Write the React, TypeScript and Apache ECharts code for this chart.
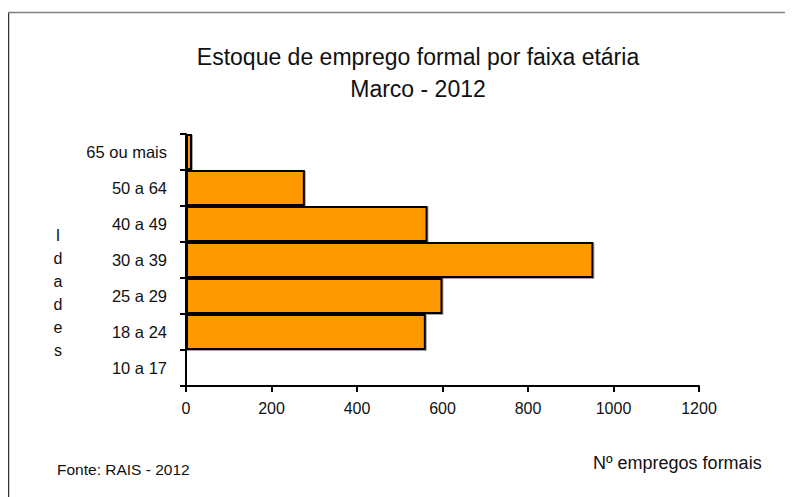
import React, { useEffect, useRef } from "react";
import * as echarts from "echarts";

const categories = ["10 a 17", "18 a 24", "25 a 29", "30 a 39", "40 a 49", "50 a 64", "65 ou mais"];
const values = [0, 561, 600, 953, 565, 278, 14];
const xTicks = [0, 200, 400, 600, 800, 1000, 1200];
const titleLines = ["Estoque de emprego formal por faixa etária", "Marco - 2012"];
const yAxisTitle = "Idades";
const sourceNote = "Fonte: RAIS - 2012";
const xAxisTitle = "Nº empregos formais";

const FONT = "'Liberation Sans', Arial, sans-serif";

export default function App() {
  const ref = useRef<HTMLDivElement>(null);
  useEffect(() => {
    if (!ref.current) return;
    const chart = echarts.init(ref.current, null, { renderer: "svg" });
    chart.setOption({
      animation: false,
      backgroundColor: "#ffffff",
      grid: { left: 178, right: 94, top: 126, bottom: 111, containLabel: false },
      xAxis: {
        type: "value",
        min: xTicks[0],
        max: xTicks[xTicks.length - 1],
        interval: 200,
        axisLine: { show: true, lineStyle: { color: "#000", width: 2 } },
        axisTick: { show: true, inside: false, length: 6, lineStyle: { color: "#000", width: 2 } },
        splitLine: { show: false },
        axisLabel: {
          color: "#111",
          fontFamily: FONT,
          fontSize: 16,
          margin: 14,
          formatter: (v: number) => String(v),
        },
      },
      yAxis: {
        type: "category",
        data: categories,
        axisLine: { show: true, lineStyle: { color: "#000", width: 2 } },
        axisTick: { show: true, length: 6, lineStyle: { color: "#000", width: 2 } },
        axisLabel: { color: "#111", fontFamily: FONT, fontSize: 16.5, margin: 19 },
        splitLine: { show: false },
      },
      series: [
        {
          type: "bar",
          data: values,
          barCategoryGap: "0%",
          itemStyle: {
            color: "#FF9900",
            borderColor: "#000",
            borderWidth: 2,
            shadowColor: "rgba(0,0,0,0.35)",
            shadowOffsetX: 1,
            shadowOffsetY: 1,
            shadowBlur: 1,
          },
        },
      ],
      graphic: [
        {
          type: "line",
          shape: { x1: 0.5, y1: 4, x2: 0.5, y2: 489 },
          style: { stroke: "#333", lineWidth: 1.5 },
          silent: true,
        },
        {
          type: "line",
          shape: { x1: 0, y1: 4.5, x2: 785, y2: 4.5 },
          style: { stroke: "#808080", lineWidth: 1.5 },
          silent: true,
        },
        {
          type: "text",
          x: 410,
          y: 49,
          style: {
            text: titleLines[0],
            fill: "#111",
            font: `23px ${FONT}`,
            textAlign: "center",
            textVerticalAlign: "middle",
          },
        },
        {
          type: "text",
          x: 410,
          y: 81,
          style: {
            text: titleLines[1],
            fill: "#111",
            font: `23px ${FONT}`,
            textAlign: "center",
            textVerticalAlign: "middle",
          },
        },
        {
          type: "text",
          x: 50,
          y: 216,
          style: {
            text: yAxisTitle.split("").join("\n"),
            fill: "#111",
            font: `16px ${FONT}`,
            textAlign: "center",
            textVerticalAlign: "top",
            lineHeight: 23,
          },
        },
        {
          type: "text",
          x: 49,
          y: 461,
          style: {
            text: sourceNote,
            fill: "#111",
            font: `15.5px ${FONT}`,
            textAlign: "left",
            textVerticalAlign: "middle",
          },
        },
        {
          type: "text",
          x: 585,
          y: 455,
          style: {
            text: xAxisTitle,
            fill: "#111",
            font: `18px ${FONT}`,
            textAlign: "left",
            textVerticalAlign: "middle",
          },
        },
      ],
    });
    return () => chart.dispose();
  }, []);
  return <div ref={ref} style={{ width: 785, height: 489 }} />;
}
